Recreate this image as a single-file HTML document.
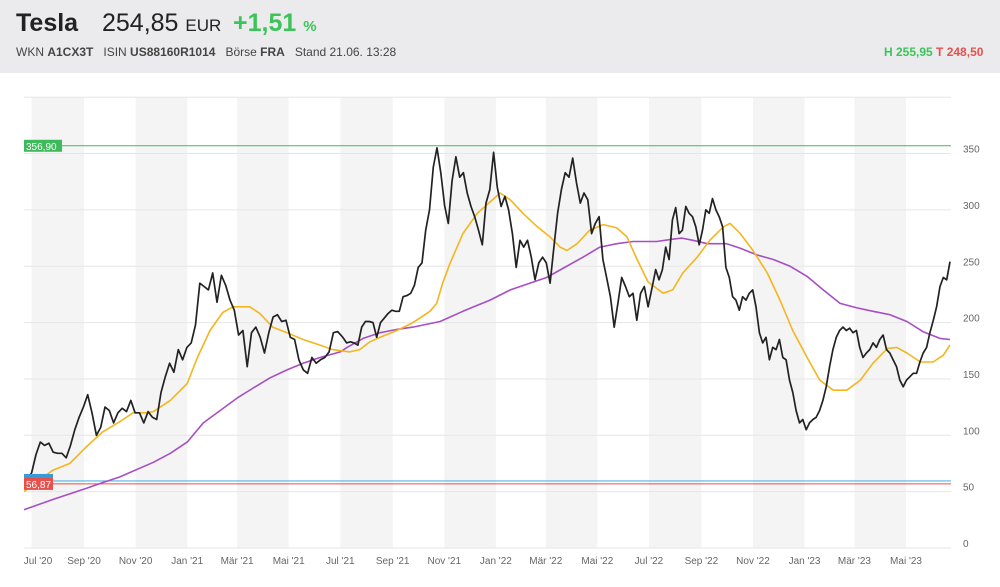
<!DOCTYPE html>
<html><head><meta charset="utf-8">
<style>
html,body{margin:0;padding:0;background:#fff;width:1000px;height:587px;overflow:hidden;font-family:"Liberation Sans",sans-serif;}
#hdr{position:absolute;left:0;top:0;width:1000px;height:73px;background:#ebebed;}
.t{position:absolute;white-space:nowrap;}
svg{position:absolute;left:0;top:0;}
</style></head>
<body>
<div id="hdr">
  <div class="t" style="left:16px;top:9px;font-size:25px;font-weight:bold;color:#222;">Tesla</div>
  <div class="t" style="left:102px;top:9px;font-size:25px;color:#222;">254,85 <span style="font-size:17px;">EUR</span></div>
  <div class="t" style="left:233px;top:9px;font-size:25px;font-weight:bold;color:#3cc45a;">+1,51 <span style="font-size:15px;">%</span></div>
  <div class="t" style="left:16px;top:45px;font-size:12px;color:#444;">WKN <b>A1CX3T</b> &nbsp; ISIN <b>US88160R1014</b> &nbsp; Börse <b>FRA</b> &nbsp; Stand 21.06. 13:28</div>
  <div class="t" style="left:884px;top:45px;font-size:12px;font-weight:bold;"><span style="color:#3cc45a;">H 255,95</span> <span style="color:#e8504d;">T 248,50</span></div>
</div>
<svg id="chart" width="1000" height="587"></svg>
<script>
const priceSeg1=[60,67,83,94,91,93,85,84,84,80,91,105,116,125,136,120,100,107,125,122,111,120,124,121,131,120,120,111,121,116,114,138,152,164,156,176,167,178,182,198,235,232,229,244,218,242,233,220,211,189,193,161,191,196,187,173,191,205,207,201,202,187,185,167,158,155,169,164,167,169,174,191,192];
const priceSeg2=[187,182,183,182,180,196,201,201,200,187,200,204,208,211,210,210,223,224,226,233,249,253,282,300,338,355,333,304,288,326,347,329,333,315,303,294,282,269,306,318,351,320,303,312,300,279,249,273,267,273,258,238,253,258,253,235,267,297,318,333,329,346,324,306,315,309,279,288,294,256,240,223,196,217,240,232,223,226,202,226,232,214];
const priceSeg3=[232,247,238,247,267,256,291,302,279,282,303,297,294,285,269,282,300,297,310,300,294,285,249,240,223,220,211,223,220,226,229,214,191,182,187,167,178,176,185,169,167,149,138,122,111,114,105,111,114,116,122,131,143,161,176,187,193,196,193,195,191,193,178,169,173,176,182,178,185,189,176,173,167,161,149,143,149,152,155,155,165,173,178,191,202,214,232,240,238,254];
const segStartDays=[4,377,743];
const segEndDays=[371,738,1095];
const ma38Days=[0,34,54,74,93,113,129,145,153,173,193,205,220,235,247,267,279,294,311,330,350,365,385,397,409,421,441,460,480,488,495,504,519,536,551,563,575,590,607,622,634,642,654,669,685,701,713,725,738,756,767,779,796,811,827,835,847,862,879,894,909,926,941,957,973,989,1004,1021,1032,1044,1060,1075,1087,1095];
const ma38Vals=[50,69,75,90,103,112,120,120,121,131,146,169,193,209,214,214,208,196,191,185,180,176,174,176,183,187,193,200,210,217,235,253,279,297,307,315,309,297,285,276,267,264,270,282,287,284,276,256,236,226,229,244,258,273,285,288,279,264,244,220,193,169,149,140,140,149,164,177,178,173,165,165,171,180];
const ma200Days=[0,34,74,93,113,153,173,193,212,232,252,271,291,311,330,350,374,382,401,421,441,460,492,519,551,575,598,618,637,661,681,701,720,748,767,778,791,808,831,847,867,886,906,926,945,965,985,1004,1024,1044,1063,1083,1095];
const ma200Vals=[34,43,53,58,63,76,84,94,111,122,133,142,151,158,164,169,174,178,186,191,194,196,201,210,220,229,235,240,248,258,267,270,272,272,274,275,273,270,270,266,260,256,250,241,229,217,213,210,207,201,192,186,185];
const yTicks=[0,50,100,150,200,250,300,350];
const xLabels=["Jul '20","Sep '20","Nov '20","Jan '21","Mär '21","Mai '21","Jul '21","Sep '21","Nov '21","Jan '22","Mär '22","Mai '22","Jul '22","Sep '22","Nov '22","Jan '23","Mär '23","Mai '23"];
const xLabelDays=[9,71,132,193,252,313,374,436,497,558,617,678,739,801,862,923,982,1043];
const highVal=356.90, lowVal=56.87, lowVal2=59.5;

const NS="http://www.w3.org/2000/svg";
const svg=document.getElementById('chart');
const X=d=>24+d*926/1095;
const Y=v=>548-v*1.127;
function mk(tag,attrs,parent){const e=document.createElementNS(NS,tag);for(const k in attrs)e.setAttribute(k,attrs[k]);(parent||svg).appendChild(e);return e;}

for(let i=0;i<xLabelDays.length;i+=2){
  const x1=X(xLabelDays[i]);const x2=i+1<xLabelDays.length?X(xLabelDays[i+1]):951;
  const r=mk('rect',{x:x1,y:97,width:x2-x1,height:451,fill:'#f4f4f4'});
  
  
}
for(let v=0;v<=400;v+=50){
  const l=mk('line',{x1:24,x2:951,y1:Y(v),y2:Y(v),stroke:'#e6e6e6','stroke-width':1});
  
  
}
yTicks.forEach(v=>{
  const t=mk('text',{x:963,y:Y(v)-1,'font-size':10,fill:'#666','font-family':'Liberation Sans, sans-serif'});
  t.textContent=v;
  
  
});
xLabels.forEach((s,i)=>{
  const t=mk('text',{x:Math.max(X(xLabelDays[i]),38),y:564,'font-size':10,fill:'#666','text-anchor':'middle','font-family':'Liberation Sans, sans-serif'});
  t.textContent=s;
  
  
});
const hl=mk('line',{x1:24,x2:951,y1:Y(highVal),y2:Y(highVal),stroke:'#3dbb5b','stroke-width':1});


const bl=mk('line',{x1:24,x2:951,y1:Y(lowVal2),y2:Y(lowVal2),stroke:'#5ab4e0','stroke-width':1.2});


const ll=mk('line',{x1:24,x2:951,y1:Y(lowVal),y2:Y(lowVal),stroke:'#e8504d','stroke-width':1});



function path(days,vals,color,w,name){
  let d='';vals.forEach((v,i)=>{d+=(i?'L':'M')+X(days[i]).toFixed(1)+','+Y(v).toFixed(1);});
  const p=mk('path',{d:d,fill:'none',stroke:color,'stroke-width':w,'stroke-linejoin':'round'});
  
  
}
path(ma200Days,ma200Vals,'#a64fc4',1.6,'ma200-line');
path(ma38Days,ma38Vals,'#f5b51e',1.6,'ma38-line');
const segs=[priceSeg1,priceSeg2,priceSeg3];
let pDays=[],pVals=[];
segs.forEach((s,k)=>{s.forEach((v,i)=>{pDays.push(segStartDays[k]+i*(segEndDays[k]-segStartDays[k])/(s.length-1));pVals.push(v);});});
path(pDays,pVals,'#222',1.7,'price-line');

function tag(val,txt,color,w,name){
  const g=mk('g',{});
  
  
  mk('rect',{x:24,y:Y(val)-6,width:w,height:12,fill:color},g);
  const t=mk('text',{x:26,y:Y(val)+4,'font-size':10,fill:'#fff','font-family':'Liberation Sans, sans-serif'},g);
  t.textContent=txt;
}
const bb=mk('rect',{x:24,y:Y(lowVal2)-7,width:29,height:5,fill:'#3a9ad9'});


tag(highVal,'356,90','#3dbb5b',38,'high-tag');
tag(lowVal,'56,87','#e8504d',29,'low-tag');
</script>
</body></html>
